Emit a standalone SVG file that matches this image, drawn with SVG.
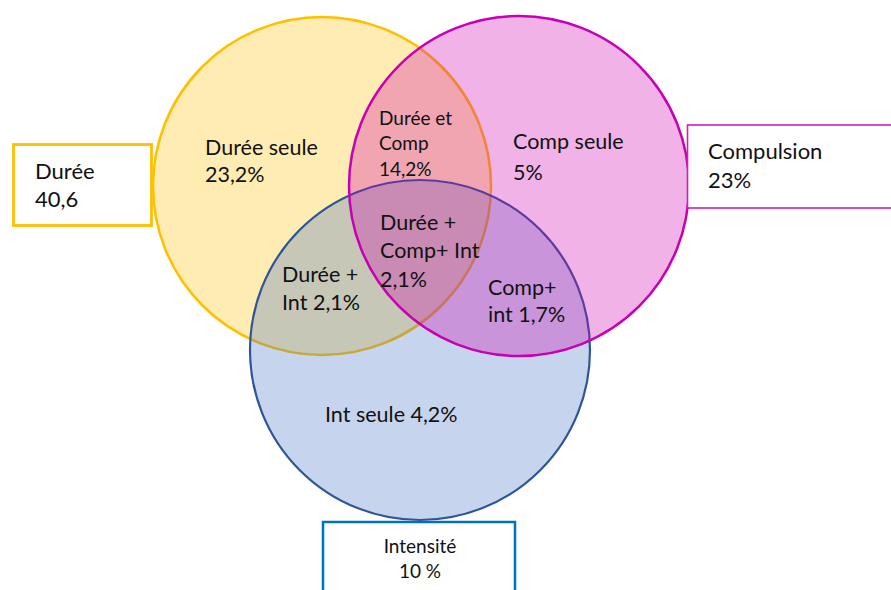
<svg xmlns="http://www.w3.org/2000/svg" width="891" height="590" viewBox="0 0 891 590">
<style>
text{font-family:Lato,"Liberation Sans",sans-serif;fill:#111;}
.big{font-size:21.5px;}
.mid{font-size:19px;}
.box{fill:#fff;}
</style>
<rect width="891" height="590" fill="#fff"/>
<g id="circles">
<g id="duree-circle"><circle cx="322" cy="186" r="169" fill="#FFC000" fill-opacity="0.3" stroke="#FFC000" stroke-width="2.5"/></g>
<g id="intensite-circle"><circle cx="420" cy="350" r="170" fill="#4472C4" fill-opacity="0.3" stroke="#2F5597" stroke-width="2.2"/></g>
<g id="compulsion-circle"><circle cx="519" cy="186" r="170" fill="#CC00B0" fill-opacity="0.3" stroke="#C800B4" stroke-width="2.5"/></g>
</g>
<g id="region-labels">
<text class="big" x="205" y="155">Durée seule</text>
<text class="big" x="205" y="182">23,2%</text>
<text class="big" x="513" y="149">Comp seule</text>
<text class="big" x="513" y="180">5%</text>
<text class="mid" x="379" y="125">Durée et</text>
<text class="mid" x="379" y="150">Comp</text>
<text class="mid" x="379" y="176">14,2%</text>
<text class="big" x="380" y="230">Durée +</text>
<text class="big" x="380" y="258">Comp+ Int</text>
<text class="big" x="380" y="287">2,1%</text>
<text class="big" x="282" y="282">Durée +</text>
<text class="big" x="282" y="310">Int 2,1%</text>
<text class="big" x="488" y="295">Comp+</text>
<text class="big" x="488" y="322">int 1,7%</text>
<text class="big" x="325" y="422">Int seule 4,2%</text>
</g>
<g id="duree-box">
<rect class="box" x="13.5" y="144.5" width="138" height="81" stroke="#FFC000" stroke-width="2.8"/>
<text x="35" y="179" style="font-size:22px">Durée</text>
<text x="35" y="207" style="font-size:22px">40,6</text>
</g>
<g id="compulsion-box">
<rect class="box" x="687.5" y="125" width="220" height="83" stroke="#D020B0" stroke-width="1.6"/>
<text x="708" y="159" style="font-size:22px">Compulsion</text>
<text x="708" y="188" style="font-size:22px">23%</text>
</g>
<g id="intensite-box">
<rect class="box" x="323" y="522" width="192" height="80" stroke="#0070C0" stroke-width="2.5"/>
<text x="420" y="553" text-anchor="middle" style="font-size:19px">Intensité</text>
<text x="420" y="578" text-anchor="middle" style="font-size:19px">10 %</text>
</g>
<g id="connectors"></g>
</svg>
